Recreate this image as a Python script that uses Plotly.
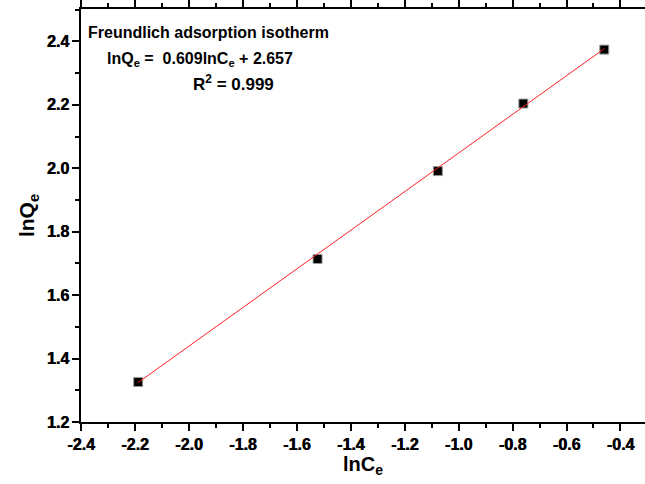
import plotly.graph_objects as go

# Freundlich isotherm data (natural logs)
ln_ce = [-2.188, -1.523, -1.077, -0.760, -0.460]
ln_qe = [1.326, 1.714, 1.991, 2.204, 2.374]

# Linear fit parameters
slope = 0.609
intercept = 2.657
r_squared = 0.999

x_tick_vals = [-2.4, -2.2, -2.0, -1.8, -1.6, -1.4, -1.2, -1.0, -0.8, -0.6, -0.4]
x_tick_text = ["-2.4", "-2.2", "-2.0", "-1.8", "-1.6", "-1.4", "-1.2", "-1.0", "-0.8", "-0.6", "-0.4"]
y_tick_vals = [1.2, 1.4, 1.6, 1.8, 2.0, 2.2, 2.4]
y_tick_text = ["1.2", "1.4", "1.6", "1.8", "2.0", "2.2", "2.4"]

FONT = "Liberation Sans, Arial, sans-serif"

fit_x = [min(ln_ce), max(ln_ce)]
fit_y = [slope * v + intercept for v in fit_x]

fig = go.Figure()
fig.add_trace(go.Scatter(
    x=ln_ce, y=ln_qe, mode="markers",
    marker=dict(symbol="square", size=9, color="black",
                line=dict(color="#9a9a9a", width=1)),
    showlegend=False,
))
fig.add_trace(go.Scatter(
    x=fit_x, y=fit_y, mode="lines",
    line=dict(color="#ff2020", width=1),
    showlegend=False,
))

# heavy tick labels: bold weight plus a thin same-colour shadow
tick_font = dict(family=FONT, size=16, color="black", weight=700,
                 shadow="0.6px 0px 0px black")
minor_ticks = dict(dtick=0.1, ticks="outside", ticklen=4, tickwidth=1.5, tickcolor="black")

fig.update_layout(
    xaxis=dict(
        range=[-2.4, -0.309],
        tickmode="array", tickvals=x_tick_vals,
        ticktext=[f"<b>{t}</b>" for t in x_tick_text],
        tickfont=tick_font,
        showgrid=False, zeroline=False,
        showline=True, linecolor="black", linewidth=1.5, mirror="ticks",
        ticks="outside", ticklen=7, tickwidth=1.5, tickcolor="black",
        minor=minor_ticks,
        title=dict(text="<b>lnC<sub>e</sub></b>",
                   font=dict(family=FONT, size=20, color="black"), standoff=4),
    ),
    yaxis=dict(
        range=[1.2, 2.502],
        tickmode="array", tickvals=y_tick_vals,
        ticktext=[f"<b>{t}</b>" for t in y_tick_text],
        tickfont=tick_font,
        showgrid=False, zeroline=False,
        showline=True, linecolor="black", linewidth=1.5,
        ticks="outside", ticklen=7, tickwidth=1.5, tickcolor="black",
        minor=minor_ticks,
        title=dict(text="<b>lnQ<sub>e</sub></b>",
                   font=dict(family=FONT, size=21, color="black"), standoff=6),
    ),
    font=dict(family=FONT, size=16, color="black"),
    width=645, height=484,
    margin=dict(l=81, r=0, t=9, b=62),
    paper_bgcolor="white", plot_bgcolor="white",
)

ann_font = dict(family=FONT, size=16, color="black")
fig.add_annotation(x=-1.929, y=2.428, xref="x", yref="y", xanchor="center", yanchor="middle",
                   text="<b>Freundlich adsorption isotherm</b>", showarrow=False, font=ann_font)
fig.add_annotation(x=-1.957, y=2.343, xref="x", yref="y", xanchor="center", yanchor="middle",
                   text=f"<b>lnQ<sub>e</sub> =  {slope:.3f}lnC<sub>e</sub> + {intercept:.3f}</b>",
                   showarrow=False, font=ann_font)
fig.add_annotation(x=-1.833, y=2.27, xref="x", yref="y", xanchor="center", yanchor="middle",
                   text=f"<b>R<sup>2</sup> = {r_squared:.3f}</b>", showarrow=False,
                   font=dict(family=FONT, size=17, color="black"))

fig.write_html("out.html")
